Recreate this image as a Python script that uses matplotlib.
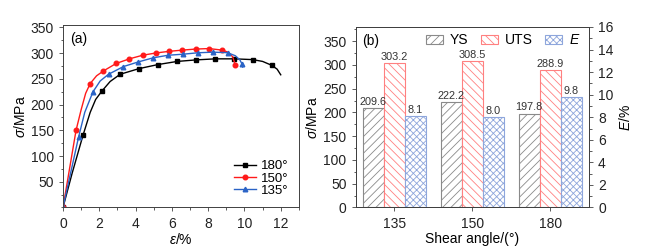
import numpy as np
import matplotlib.pyplot as plt
from matplotlib.lines import Line2D
from matplotlib.patches import Patch
from matplotlib.ticker import MultipleLocator

plt.rcParams["font.family"] = ["Liberation Sans", "DejaVu Sans"]
plt.rcParams["mathtext.fontset"] = "custom"
plt.rcParams["mathtext.it"] = "Liberation Sans:italic"
plt.rcParams["mathtext.rm"] = "Liberation Sans"
plt.rcParams["hatch.linewidth"] = 0.6

# (a) stress-strain curves
x180 = [0, 0.5, 1.1, 1.5, 1.8, 2.15, 2.6, 3.15, 4.19, 5.25, 6.3, 7.35, 8.4, 9.45, 10.46, 11.0, 11.5, 11.8, 12.0]
y180 = [0, 66, 140, 185, 210, 226.6, 245, 259, 270, 278, 284, 287, 289, 289, 287.5, 284, 276.5, 269, 258]
m180_x = [0, 1.1, 2.15, 3.15, 4.19, 5.25, 6.3, 7.35, 8.4, 9.45, 10.46, 11.5]
m180_y = [0, 140, 226.6, 259, 270, 278, 284, 287, 289, 289, 287.5, 276.5]

x150 = [0, 0.72, 1.0, 1.25, 1.5, 1.85, 2.23, 2.93, 3.66, 4.39, 5.12, 5.85, 6.58, 7.31, 8.04, 8.77, 9.1, 9.35, 9.49, 9.52]
y150 = [0, 150, 190, 222, 241, 256, 265.5, 280, 289, 296, 300.4, 303.6, 306, 308, 309, 306, 302, 293, 278, 273]
m150_x = [0, 0.72, 1.5, 2.23, 2.93, 3.66, 4.39, 5.12, 5.85, 6.58, 7.31, 8.04, 8.77, 9.49]
m150_y = [0, 150, 241, 265.5, 280, 289, 296, 300.4, 303.6, 306, 308, 309, 306, 278]

x135 = [0, 0.86, 1.2, 1.65, 2.05, 2.51, 3.33, 4.15, 4.97, 5.79, 6.61, 7.43, 8.25, 9.07, 9.5, 9.75, 9.87, 9.9]
y135 = [0, 137, 185, 224.7, 246, 259, 274, 283, 291, 296, 298, 300.8, 302, 301, 295, 287, 278.5, 273]
m135_x = [0, 0.86, 1.65, 2.51, 3.33, 4.15, 4.97, 5.79, 6.61, 7.43, 8.25, 9.07, 9.87]
m135_y = [0, 137, 224.7, 259, 274, 283, 291, 296, 298, 300.8, 302, 301, 278.5]

# (b) bars
angles = ["135", "150", "180"]
ys = [209.6, 222.2, 197.8]
uts = [303.2, 308.5, 288.9]
elong = [8.1, 8.0, 9.8]

fig = plt.figure(figsize=(6.54, 2.49), dpi=100)
ax = fig.add_axes([0.0963, 0.1667, 0.3607, 0.7333])
bx = fig.add_axes([0.5436, 0.1667, 0.357, 0.7250])

FS = 10
frame_c = "#404040"

# ---- (a)
series = [
    (x180, y180, m180_x, m180_y, "black", "s", "180°"),
    (x150, y150, m150_x, m150_y, "#ff1a1a", "o", "150°"),
    (x135, y135, m135_x, m135_y, "#2a63c6", "^", "135°"),
]
handles = []
for cx, cy, mx, my, col, mk, lab in series:
    ax.plot(cx, cy, color=col, lw=1.0)
    ax.plot(mx, my, ls="none", marker=mk, color=col, ms=3.3)
    handles.append(Line2D([], [], color=col, marker=mk, ms=3.3, lw=1.0, label=lab))

ax.set_xlim(0, 13)
ax.set_ylim(0, 355)
ax.set_xticks(np.arange(0, 13, 2))
ax.set_yticks(np.arange(50, 351, 50))
ax.xaxis.set_minor_locator(MultipleLocator(1))
ax.yaxis.set_minor_locator(MultipleLocator(25))
ax.set_xlabel(r"$\varepsilon$/%", fontsize=FS, labelpad=1)
ax.set_ylabel(r"$\sigma$/MPa", fontsize=FS, labelpad=2)
ax.text(0.03, 0.96, "(a)", transform=ax.transAxes, fontsize=FS, va="top")
ax.legend(handles=handles, loc="lower right", bbox_to_anchor=(1.0, 0.0), frameon=False,
          fontsize=9.5, handlelength=1.6, handletextpad=0.4, labelspacing=0.0, borderpad=0.3)

# ---- (b)
pos = np.arange(len(angles))
w = 0.27
b1 = bx.bar(pos - w, ys, w, facecolor="white", edgecolor="#8a8a8a", hatch="////", lw=0.8)
b2 = bx.bar(pos, uts, w, facecolor="white", edgecolor="#ff8080", hatch="\\\\\\\\", lw=0.8)
bx2 = bx.twinx()
b3 = bx2.bar(pos + w, elong, w, facecolor="white", edgecolor="#8ea6dc", hatch="xxxxx", lw=0.8)

for bars, vals, axis in [(b1, ys, bx), (b2, uts, bx), (b3, elong, bx2)]:
    axis.bar_label(bars, labels=[f"{v:.1f}" for v in vals], fontsize=7.8, color="#333333", padding=1)

bx.set_xlim(-0.5, 2.5)
bx.set_ylim(0, 380)
bx2.set_ylim(0, 16)
bx.set_xticks(pos)
bx.set_xticklabels(angles)
bx.set_yticks(np.arange(0, 351, 50))
bx.yaxis.set_minor_locator(MultipleLocator(25))
bx2.set_yticks(np.arange(0, 17, 2))
bx2.yaxis.set_minor_locator(MultipleLocator(1))
bx.set_xlabel("Shear angle/(°)", fontsize=FS, labelpad=1)
bx.set_ylabel(r"$\sigma$/MPa", fontsize=FS, labelpad=2)
bx2.set_ylabel(r"$E$/%", fontsize=FS, labelpad=3)
bx.text(0.03, 0.96, "(b)", transform=bx.transAxes, fontsize=FS, va="top")

leg_h = [
    Patch(facecolor="white", edgecolor="#8a8a8a", hatch="////", lw=0.8, label="YS"),
    Patch(facecolor="white", edgecolor="#ff8080", hatch="\\\\\\\\", lw=0.8, label="UTS"),
    Patch(facecolor="white", edgecolor="#8ea6dc", hatch="xxxxx", lw=0.8, label="$E$"),
]
bx.legend(handles=leg_h, loc="upper left", bbox_to_anchor=(0.25, 1.035), ncol=3, frameon=False,
          fontsize=FS, handlelength=1.2, handleheight=0.6, handletextpad=0.5, columnspacing=0.9)

for a in (ax, bx, bx2):
    a.tick_params(which="major", direction="out", length=3, width=0.6, labelsize=FS, colors=frame_c, labelcolor="#222222")
    a.tick_params(which="minor", direction="out", length=1.8, width=0.6, colors=frame_c)
    for s in a.spines.values():
        s.set_color(frame_c)
        s.set_linewidth(0.7)
bx.tick_params(axis="x", which="minor", bottom=False)

fig.savefig("out.png", dpi=100)
